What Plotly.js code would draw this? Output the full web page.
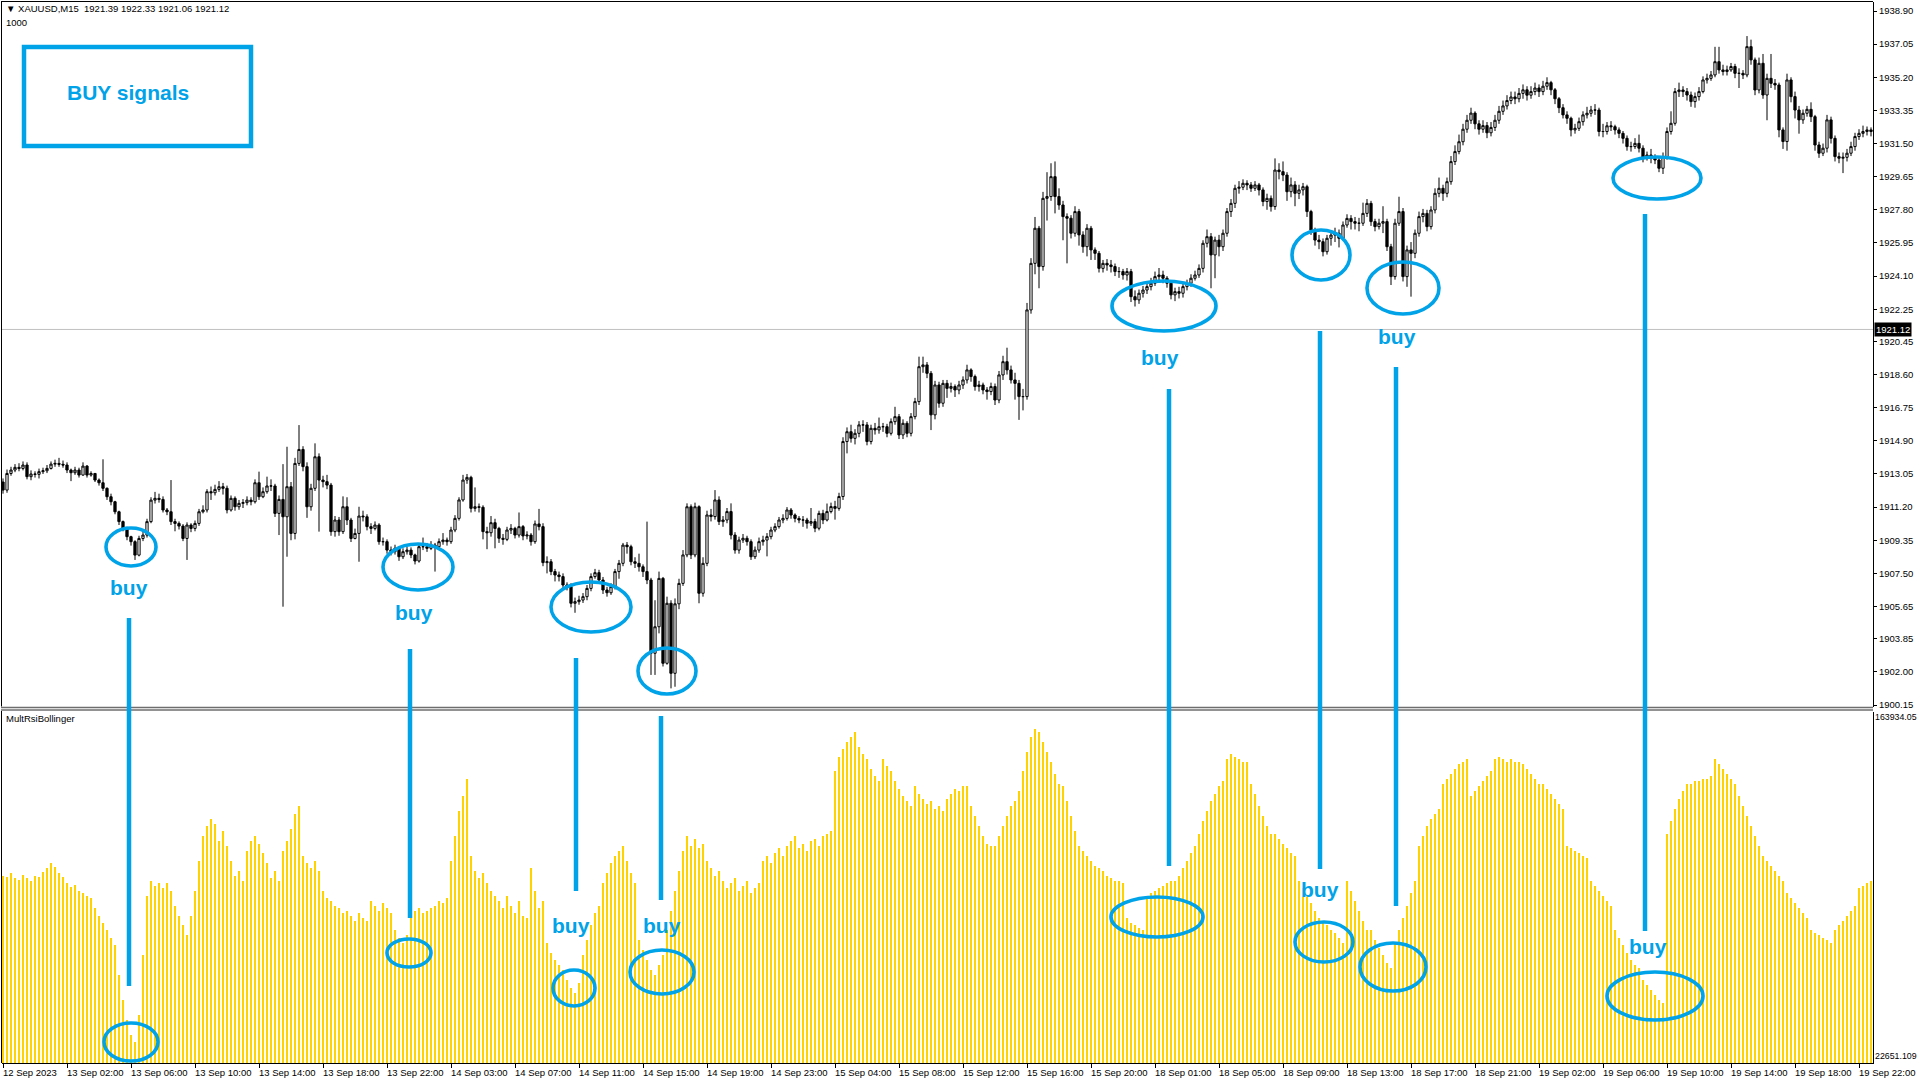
<!DOCTYPE html>
<html><head><meta charset="utf-8">
<script src="https://cdn.plot.ly/plotly-3.0.1.min.js"></script>
<style>html,body{margin:0;padding:0;background:#fff;overflow:hidden}#chart{width:1920px;height:1080px}</style>
</head><body><div id="chart"></div>
<script>
// ---------- DATA (XAUUSD M15) ----------
const firstOpen = 1912.60;
const closes = [
1912.15,1913.08,1913.27,1913.42,1913.36,1913.55,1912.90,1913.05,1913.03,1913.18,
1913.23,1913.36,1913.60,1913.64,1913.59,1913.55,1913.27,1913.12,1913.27,1912.99,
1913.49,1912.99,1913.08,1912.71,1912.56,1912.25,1911.78,1911.50,1910.94,1910.39,
1910.01,1909.55,1909.27,1908.52,1909.45,1909.64,1910.39,1911.59,1911.69,1911.63,
1911.04,1910.94,1910.39,1910.29,1910.14,1909.45,1910.20,1910.01,1910.29,1910.94,
1911.04,1912.06,1912.00,1912.19,1912.34,1912.25,1911.04,1911.69,1911.22,1911.41,
1911.45,1911.59,1911.50,1912.56,1911.78,1912.06,1912.38,1912.38,1910.85,1911.63,
1910.66,1912.34,1909.73,1913.64,1914.42,1913.46,1911.22,1912.25,1914.01,1912.71,
1912.62,1912.43,1909.83,1910.48,1909.83,1911.22,1910.48,1909.45,1909.73,1910.70,
1910.66,1910.11,1910.01,1910.20,1909.27,1909.27,1908.80,1908.71,1908.90,1908.43,
1908.71,1908.80,1908.53,1908.19,1908.99,1908.99,1908.90,1909.08,1908.99,1909.27,
1909.36,1909.27,1909.92,1910.57,1911.60,1912.71,1912.86,1911.13,1911.22,1911.19,
1909.83,1909.77,1910.33,1910.01,1909.46,1909.40,1909.92,1910.01,1909.64,1910.11,
1909.59,1909.64,1909.27,1910.26,1910.11,1908.10,1908.15,1907.60,1907.41,1907.32,
1906.85,1906.76,1905.83,1905.92,1906.01,1906.20,1906.66,1907.32,1907.54,1907.13,
1906.57,1906.42,1906.76,1907.60,1908.06,1909.08,1908.99,1908.15,1908.06,1907.87,
1907.60,1907.13,1903.04,1904.52,1907.22,1902.48,1905.83,1901.92,1905.80,1906.94,
1908.53,1911.22,1908.53,1911.22,1906.39,1908.06,1910.76,1910.67,1911.60,1910.39,
1910.48,1910.95,1909.64,1908.80,1909.36,1909.46,1909.27,1908.43,1908.80,1909.27,
1909.36,1909.55,1909.92,1910.11,1910.48,1910.57,1911.04,1910.76,1910.57,1910.48,
1910.48,1910.30,1910.39,1910.02,1910.85,1910.48,1910.95,1911.23,1911.13,1911.79,
1914.86,1915.41,1915.04,1915.32,1915.79,1915.79,1914.86,1915.60,1915.51,1915.69,
1915.69,1915.32,1915.97,1916.25,1915.23,1915.88,1915.32,1916.25,1917.09,1919.04,
1919.14,1918.67,1916.35,1918.02,1917.00,1918.11,1917.83,1917.93,1917.74,1918.02,
1918.30,1918.86,1918.49,1917.93,1918.02,1917.74,1917.65,1917.93,1917.18,1918.58,
1919.32,1918.86,1918.30,1918.11,1917.37,1917.37,1922.21,1924.81,1926.77,1924.63,
1928.44,1928.54,1929.65,1928.54,1928.07,1927.42,1927.33,1926.49,1927.70,1926.40,
1925.74,1926.77,1925.56,1925.37,1924.53,1924.81,1924.72,1924.63,1924.35,1924.35,
1924.16,1924.35,1922.95,1922.77,1923.14,1923.32,1923.51,1923.70,1924.07,1924.16,
1923.98,1923.70,1923.05,1923.23,1923.14,1923.51,1923.70,1923.98,1924.16,1924.53,
1925.93,1926.30,1925.28,1926.11,1925.74,1926.49,1927.70,1928.16,1929.00,1929.06,
1929.28,1929.19,1929.00,1929.19,1928.91,1928.26,1928.44,1927.98,1930.02,1929.93,
1929.74,1928.81,1929.19,1928.72,1928.91,1929.09,1927.70,1926.67,1926.11,1926.02,
1925.46,1926.21,1926.39,1926.49,1926.21,1926.95,1927.32,1927.14,1927.05,1927.05,
1927.60,1928.16,1927.14,1926.86,1927.05,1927.14,1925.74,1924.07,1927.05,1927.70,
1924.07,1925.56,1925.37,1926.49,1927.42,1927.60,1926.86,1927.79,1928.72,1929.00,
1928.72,1929.37,1930.49,1931.05,1931.60,1932.30,1932.80,1933.20,1932.60,1932.30,
1932.50,1932.10,1932.40,1932.80,1933.30,1933.60,1933.90,1934.10,1934.00,1934.30,
1934.50,1934.20,1934.40,1934.60,1934.40,1934.70,1934.90,1934.50,1934.00,1933.50,
1933.10,1932.91,1932.26,1932.35,1932.72,1933.10,1933.19,1933.37,1933.37,1932.17,
1932.17,1932.49,1932.44,1932.26,1932.07,1931.79,1931.33,1931.33,1931.51,1931.24,
1930.68,1930.86,1930.68,1930.58,1930.12,1930.77,1932.17,1932.63,1934.40,1934.49,
1934.40,1934.21,1933.84,1934.12,1934.40,1935.05,1935.14,1935.33,1936.07,1935.61,
1935.52,1935.61,1935.80,1935.42,1935.42,1935.33,1936.91,1936.17,1934.49,1935.98,
1934.21,1935.14,1934.86,1934.77,1932.26,1931.61,1935.05,1934.12,1933.37,1932.82,
1933.19,1933.41,1933.00,1931.42,1930.96,1931.24,1932.82,1931.79,1930.77,1930.68,
1930.73,1930.96,1931.33,1931.89,1932.07,1932.17,1932.26,1932.17
];
const highs = [
1912.80,1913.30,1913.45,1913.60,1913.65,1913.75,1913.70,1913.25,1913.20,1913.35,
1913.40,1913.55,1913.75,1913.85,1913.95,1913.80,1913.70,1913.35,1913.45,1913.40,
1913.70,1913.55,1913.20,1913.10,1912.80,1913.87,1912.30,1911.95,1911.55,1911.00,
1910.45,1910.10,1909.60,1909.35,1909.60,1909.90,1910.55,1911.75,1912.05,1911.95,
1911.80,1911.15,1912.71,1910.55,1910.40,1910.25,1910.35,1910.30,1910.45,1911.10,
1911.30,1912.20,1912.35,1912.45,1912.65,1912.55,1912.40,1911.85,1911.80,1911.60,
1911.65,1911.80,1911.75,1912.75,1913.18,1912.30,1912.90,1912.75,1912.50,1911.85,
1913.60,1914.57,1912.60,1913.95,1915.78,1914.60,1913.70,1912.50,1914.76,1914.20,
1912.95,1913.00,1912.55,1910.70,1910.65,1911.80,1911.75,1910.60,1910.00,1911.22,
1911.00,1910.80,1910.30,1910.40,1910.30,1909.50,1909.40,1909.00,1909.10,1909.00,
1908.90,1909.00,1908.95,1908.60,1909.15,1909.50,1909.20,1909.30,1909.20,1909.45,
1909.75,1909.50,1910.10,1910.75,1911.75,1913.00,1913.05,1912.95,1912.30,1911.40,
1911.30,1910.10,1910.70,1910.55,1910.10,1909.70,1910.10,1910.25,1910.10,1910.90,
1910.20,1909.85,1909.75,1910.45,1911.10,1910.30,1908.45,1908.30,1907.75,1907.60,
1907.50,1907.00,1906.95,1906.15,1906.25,1906.40,1906.85,1907.50,1907.75,1907.70,
1907.30,1906.75,1906.95,1907.75,1908.25,1909.20,1909.25,1909.10,1908.40,1908.60,
1908.00,1910.39,1907.25,1906.00,1907.60,1907.30,1906.20,1906.00,1906.10,1907.20,
1908.80,1911.41,1911.35,1911.45,1911.30,1908.40,1911.00,1911.10,1912.15,1911.80,
1910.70,1911.15,1911.41,1909.80,1909.55,1909.70,1909.60,1909.40,1909.00,1909.50,
1909.60,1909.75,1910.10,1910.30,1910.65,1910.80,1911.20,1911.15,1910.85,1910.70,
1910.70,1910.60,1911.15,1910.55,1911.00,1911.05,1911.40,1911.45,1911.55,1912.00,
1915.10,1915.65,1915.80,1915.55,1916.00,1916.05,1915.95,1915.80,1915.90,1916.20,
1915.90,1915.85,1916.15,1916.80,1916.40,1916.10,1916.00,1916.45,1917.30,1919.60,
1919.60,1919.30,1918.80,1918.25,1918.20,1918.30,1918.30,1918.15,1918.05,1918.25,
1918.50,1919.15,1918.95,1918.60,1918.25,1918.15,1917.90,1918.15,1918.10,1918.80,
1919.65,1920.10,1919.10,1918.70,1918.30,1917.80,1922.60,1925.10,1927.40,1926.90,
1928.80,1929.90,1930.40,1930.50,1929.00,1928.30,1927.60,1927.50,1928.00,1927.85,
1926.60,1927.00,1926.90,1925.70,1925.50,1925.00,1925.05,1925.00,1924.80,1924.60,
1924.50,1924.55,1924.50,1923.30,1923.35,1923.55,1923.75,1924.00,1924.35,1924.55,
1924.40,1924.10,1923.85,1923.45,1923.50,1923.70,1923.90,1924.20,1924.40,1924.75,
1926.10,1926.70,1926.50,1926.30,1926.40,1926.70,1927.90,1928.40,1929.20,1929.40,
1929.50,1929.45,1929.35,1929.40,1929.30,1929.05,1928.70,1928.60,1930.67,1930.40,
1930.50,1929.90,1929.60,1929.40,1929.20,1929.30,1929.20,1927.80,1926.80,1926.40,
1926.20,1926.40,1926.60,1926.80,1926.70,1927.15,1927.55,1927.50,1927.40,1927.35,
1928.20,1928.40,1928.30,1927.30,1927.30,1928.00,1927.30,1925.90,1927.30,1928.53,
1927.90,1925.80,1926.00,1926.70,1927.70,1927.85,1927.80,1928.00,1929.00,1929.60,
1929.20,1929.60,1930.80,1931.40,1932.00,1932.60,1933.10,1933.50,1933.30,1932.80,
1932.80,1932.70,1932.70,1933.10,1933.60,1933.90,1934.20,1934.40,1934.40,1934.60,
1934.80,1934.70,1934.70,1934.90,1934.80,1935.00,1935.20,1935.00,1934.60,1934.10,
1933.70,1933.30,1933.00,1932.60,1932.95,1933.30,1933.55,1933.60,1933.70,1933.50,
1932.60,1932.70,1932.75,1932.55,1932.40,1932.20,1931.95,1931.60,1931.80,1932.00,
1931.40,1931.05,1931.20,1930.90,1930.80,1931.00,1932.40,1933.30,1934.60,1934.90,
1934.70,1934.60,1934.40,1934.35,1934.65,1935.25,1935.40,1935.55,1936.90,1936.90,
1935.90,1935.85,1936.00,1935.95,1935.70,1935.60,1937.50,1937.30,1936.30,1936.30,
1936.50,1935.40,1936.50,1935.10,1934.90,1932.40,1935.40,1935.20,1934.40,1933.60,
1933.40,1933.60,1933.80,1933.10,1931.60,1931.50,1933.10,1933.00,1931.95,1931.00,
1931.00,1931.20,1931.60,1932.10,1932.30,1932.50,1932.45,1932.40
];
const lows = [
1911.95,1912.00,1912.95,1913.15,1913.20,1913.25,1912.75,1912.70,1912.85,1912.80,
1913.05,1913.10,1913.30,1913.45,1913.45,1913.40,1913.10,1912.65,1913.00,1912.85,
1912.95,1912.85,1912.90,1912.60,1912.40,1912.10,1911.60,1911.30,1910.80,1910.20,
1909.85,1909.35,1909.05,1908.25,1908.45,1909.30,1909.50,1910.30,1911.40,1911.45,
1910.90,1910.75,1910.20,1909.85,1909.95,1909.30,1908.25,1909.80,1909.85,1910.15,
1910.85,1910.90,1911.60,1911.85,1912.05,1911.90,1910.85,1910.95,1911.00,1911.05,
1911.15,1911.30,1911.30,1911.40,1911.60,1911.70,1911.95,1912.10,1910.65,1909.64,
1905.64,1908.43,1909.35,1909.40,1913.50,1913.20,1910.60,1911.00,1912.10,1909.83,
1912.30,1912.20,1909.60,1909.55,1909.60,1909.70,1910.20,1909.25,1909.40,1908.15,
1910.40,1909.90,1909.70,1909.90,1909.10,1909.05,1908.60,1908.50,1908.55,1908.20,
1908.30,1908.55,1908.35,1908.00,1908.10,1908.80,1908.70,1908.80,1907.60,1908.90,
1909.10,1909.05,1909.15,1909.80,1910.45,1911.50,1912.50,1910.90,1910.95,1910.90,
1909.40,1908.85,1909.55,1908.90,1909.20,1909.10,1909.30,1909.70,1909.45,1909.50,
1909.35,1909.40,1909.05,1909.15,1909.90,1907.90,1907.50,1907.40,1907.05,1907.05,
1906.65,1906.55,1905.60,1905.30,1905.75,1905.85,1906.00,1906.50,1907.20,1906.95,
1906.35,1906.20,1906.30,1906.60,1907.20,1907.90,1908.60,1907.95,1907.80,1907.60,
1907.30,1906.90,1901.83,1901.83,1904.15,1902.30,1902.40,1901.08,1901.17,1905.50,
1906.80,1908.40,1908.30,1908.40,1905.83,1906.20,1907.90,1910.40,1910.50,1910.20,
1910.10,1910.30,1909.40,1908.60,1908.60,1909.20,1909.05,1908.25,1908.30,1908.65,
1909.05,1908.45,1909.40,1909.80,1910.00,1910.30,1910.45,1910.55,1910.35,1910.30,
1910.10,1910.00,1910.15,1909.80,1909.90,1910.25,1910.40,1910.85,1910.50,1911.00,
1911.60,1914.20,1914.80,1914.70,1915.10,1915.40,1914.65,1914.70,1915.25,1915.30,
1915.40,1915.10,1915.20,1915.80,1915.00,1915.00,1915.10,1915.15,1916.10,1916.90,
1918.70,1918.40,1915.50,1916.10,1916.75,1916.80,1917.30,1917.60,1917.35,1917.50,
1917.80,1918.10,1918.20,1917.70,1917.65,1917.50,1917.20,1917.45,1916.90,1917.00,
1918.30,1918.60,1918.10,1917.20,1916.07,1916.60,1917.20,1922.00,1924.20,1923.42,
1924.40,1927.20,1928.30,1927.60,1927.80,1926.10,1924.81,1926.20,1926.30,1925.80,
1925.40,1925.20,1925.00,1925.00,1924.30,1924.30,1924.40,1924.30,1924.10,1924.00,
1923.90,1923.85,1922.65,1922.40,1922.55,1922.90,1923.10,1923.30,1923.55,1923.80,
1923.70,1923.45,1922.80,1922.70,1922.85,1922.90,1923.30,1923.50,1923.85,1924.00,
1924.30,1925.70,1923.42,1923.98,1925.20,1925.50,1926.30,1927.40,1927.90,1928.70,
1928.90,1928.90,1928.80,1928.85,1928.60,1928.00,1927.80,1927.70,1927.80,1929.50,
1929.40,1928.30,1928.50,1928.00,1928.40,1928.60,1927.40,1926.40,1925.80,1925.60,
1925.20,1925.30,1925.80,1926.00,1925.70,1926.10,1926.80,1926.70,1926.70,1926.60,
1926.90,1927.40,1926.90,1926.60,1926.70,1926.50,1925.50,1923.60,1923.90,1926.90,
1923.80,1923.50,1922.95,1925.10,1926.30,1927.10,1926.60,1926.70,1927.60,1928.50,
1928.30,1928.50,1929.20,1930.30,1930.90,1931.40,1932.10,1932.60,1932.30,1932.00,
1932.10,1931.80,1931.90,1932.20,1932.60,1933.10,1933.40,1933.70,1933.70,1933.80,
1934.00,1933.90,1934.00,1934.20,1934.10,1934.20,1934.50,1934.20,1933.70,1933.20,
1932.90,1932.60,1931.90,1932.05,1932.20,1932.50,1932.90,1933.00,1933.10,1931.90,
1931.85,1932.00,1932.20,1932.00,1931.80,1931.50,1931.10,1931.05,1931.20,1931.00,
1930.45,1930.55,1930.40,1930.35,1929.90,1929.80,1930.60,1932.00,1932.50,1934.10,
1934.10,1933.90,1933.55,1933.50,1933.90,1934.30,1934.85,1935.00,1935.20,1935.40,
1935.30,1935.30,1935.50,1935.15,1934.60,1935.10,1935.20,1935.90,1934.20,1934.30,
1934.00,1932.80,1934.60,1934.50,1931.85,1931.20,1931.10,1933.80,1932.90,1932.05,
1932.60,1933.00,1932.70,1931.10,1930.70,1930.80,1931.00,1931.50,1930.50,1930.40,
1929.85,1930.50,1930.80,1931.10,1931.70,1931.85,1931.95,1931.90
];
// MultRsiBollinger histogram
const hist = [
98000,97500,99000,97000,96500,98500,97000,96000,98000,97500,99500,101000,103000,101500,99000,97500,
95000,93500,94500,92000,91000,90000,89000,
85000,82000,79000,76000,73000,70000,
58000,48000,40000,34000,31000,
42000,66000,90000,
96000,94000,95000,93000,95000,92000,
86000,82000,78000,74000,
82000,92000,104000,
114000,118000,121000,119000,112000,116000,110000,
104000,98000,100000,96000,
108000,112000,114000,111000,107000,
103000,97000,100000,96000,
108000,112000,117000,123000,126000,
106000,103000,101000,104000,100000,
92000,89000,88000,86000,
85000,83000,84000,82000,80000,83000,81000,80000,
88000,86000,84000,87000,85000,83000,
76000,73000,71000,74000,
86000,84000,85000,83000,84000,
85000,86000,88000,87000,89000,
104000,114000,124000,130000,
137000,
106000,100000,97000,99000,95000,
92000,90000,88000,85000,
90000,86000,83000,88000,82000,81000,
101000,92000,85000,88000,
71000,67000,64000,62000,60000,
56000,53000,51000,55000,
66000,72000,78000,83000,86000,
95000,99000,103000,106000,108000,110000,
104000,99000,95000,
72000,68000,64000,60000,58000,62000,66000,
76000,84000,92000,100000,108000,
114000,110000,113000,109000,111000,
104000,101000,98000,100000,96000,93000,95000,97000,92000,94000,96000,91000,93000,95000,
104000,106000,103000,107000,109000,106000,110000,112000,114000,
109000,111000,108000,112000,113000,110000,114000,115000,116000,
140000,146000,149000,152000,154000,156000,
150000,147000,145000,141000,138000,136000,
145000,142000,140000,136000,133000,130000,128000,126000,
134000,131000,129000,127000,128000,125000,126000,124000,
129000,131000,133000,132000,134000,134000,
126000,122000,118000,114000,111000,110000,
110000,114000,118000,122000,126000,128000,
132000,140000,148000,154000,
157000,156000,152000,148000,144000,139000,135000,
134000,128000,122000,116000,
110000,108000,106000,104000,102000,101000,
100000,98000,97000,96000,96000,95000,
81000,79000,78000,77000,76000,
90000,91000,92000,93000,94000,95000,96000,
96000,98000,101000,104000,107000,110000,
115000,120000,124000,128000,131000,134000,136000,
145000,147000,146000,145000,144000,144000,
135000,131000,126000,122000,118000,115000,
115000,113000,111000,109000,107000,106000,
96000,93000,90000,87000,84000,81000,
80000,78000,76000,75000,73000,71000,
96000,92000,88000,84000,80000,76000,
76000,72000,69000,66000,63000,61000,
71000,76000,81000,86000,91000,96000,
110000,114000,118000,121000,123000,125000,
135000,137000,139000,141000,143000,144000,145000,
130000,132000,134000,136000,138000,140000,
145000,146000,145000,144000,145000,144000,
144000,143000,141000,139000,137000,135000,
135000,133000,131000,129000,127000,125000,
110000,109000,108000,107000,106000,105000,
96000,94000,92000,90000,88000,86000,
76000,73000,70000,67000,64000,62000,61000,
56000,54000,52000,50000,48000,47000,
115000,120000,125000,129000,132000,135000,
135000,136000,136000,137000,137000,138000,
145000,143000,141000,139000,137000,135000,
130000,126000,122000,118000,114000,110000,
106000,104000,102000,100000,98000,96000,
91000,89000,87000,85000,83000,81000,
76000,75000,74000,73000,72000,71000,
76000,78000,80000,82000,84000,86000,
93000,94000,95000,96000
];
const timeLabels = ["12 Sep 2023","13 Sep 02:00","13 Sep 06:00","13 Sep 10:00","13 Sep 14:00","13 Sep 18:00","13 Sep 22:00",
"14 Sep 03:00","14 Sep 07:00","14 Sep 11:00","14 Sep 15:00","14 Sep 19:00","14 Sep 23:00","15 Sep 04:00","15 Sep 08:00",
"15 Sep 12:00","15 Sep 16:00","15 Sep 20:00","18 Sep 01:00","18 Sep 05:00","18 Sep 09:00","18 Sep 13:00","18 Sep 17:00",
"18 Sep 21:00","19 Sep 02:00","19 Sep 06:00","19 Sep 10:00","19 Sep 14:00","19 Sep 18:00","19 Sep 22:00"];
const barsPerLabel = 16;
const priceTicks = [1938.90,1937.05,1935.20,1933.35,1931.50,1929.65,1927.80,1925.95,1924.10,1922.25,1920.45,
1918.60,1916.75,1914.90,1913.05,1911.20,1909.35,1907.50,1905.65,1903.85,1902.00,1900.15];
const priceTickText = ["1938.90","1937.05","1935.20","1933.35","1931.50","1929.65","1927.80","1925.95","1924.10","1922.25","1920.45",
"1918.60","1916.75","1914.90","1913.05","1911.20","1909.35","1907.50","1905.65","1903.85","1902.00","1900.15"];
const histMax = 163934.05, histMin = 22651.109;
const lastPrice = 1921.12;
const headerText = "XAUUSD,M15\u00a0\u00a01921.39 1922.33 1921.06 1921.12";

// ---------- BUILD ----------
const n = closes.length;
const idx = closes.map((_, i) => i);
const opens = closes.map((c, i) => i === 0 ? firstOpen : closes[i - 1]);
const hi = highs.map((h, i) => Math.max(h, opens[i], closes[i]));
const lo = lows.map((l, i) => Math.min(l, opens[i], closes[i]));
const tickIdx = timeLabels.map((_, k) => k * barsPerLabel);

const PL = 2, PR = 1873, PT = 2, PB = 1063;
const fx = p => (p - PL) / (PR - PL);
const fy = p => (PB - p) / (PB - PT);
const BLUE = '#00A2E8';
const FONT = 'Liberation Sans, Arial, sans-serif';

const ellipses = [[131,547,25,19],[418,567,35,23],[591,607,40,25],[667,671,29,23],[1164,306,52,25],[1321,255,29,25],[1403,288,36,26],[1657,178,44,21],
 [131,1042,27,19],[409,953,22,14],[574,988,21,18],[662,972,32,22],[1157,917,46,20],[1324,942,29,20],[1393,967,33,24],[1655,996,48,24]];
const vlines = [[129,618,986],[410,649,918],[576,658,891],[661,716,900],[1169,389,866],[1320,331,869],[1396,367,906],[1645,214,931]];
const buyLabels = [[129,588],[414,612],[571,925],[662,925],[1160,357],[1320,889],[1397,337],[1648,946]];

const shapes = [];
shapes.push({type:'line', xref:'paper', yref:'paper', x0:fx(1.5), x1:fx(1.5), y0:fy(1), y1:fy(PB), line:{color:'#000', width:1}});
shapes.push({type:'line', xref:'paper', yref:'paper', x0:fx(1), x1:fx(PR), y0:fy(1.5), y1:fy(1.5), line:{color:'#000', width:1}});
shapes.push({type:'rect', xref:'paper', yref:'paper', x0:fx(1), x1:fx(PR), y0:fy(711), y1:fy(706.5), fillcolor:'#fff', line:{width:0}});
shapes.push({type:'line', xref:'paper', yref:'paper', x0:fx(1), x1:fx(PR), y0:fy(707.5), y1:fy(707.5), line:{color:'#6e6e6e', width:1.5}});
shapes.push({type:'line', xref:'paper', yref:'paper', x0:fx(1), x1:fx(PR), y0:fy(710), y1:fy(710), line:{color:'#6e6e6e', width:1.5}});
shapes.push({type:'line', xref:'paper', yref:'y', x0:0, x1:1, y0:lastPrice, y1:lastPrice, line:{color:'#c0c0c0', width:1}, layer:'below'});
shapes.push({type:'rect', xref:'paper', yref:'paper', x0:fx(24), x1:fx(251), y0:fy(146), y1:fy(47), line:{color:BLUE, width:4.5}});
ellipses.forEach(e => shapes.push({type:'circle', xref:'paper', yref:'paper', x0:fx(e[0]-e[2]), x1:fx(e[0]+e[2]), y0:fy(e[1]+e[3]), y1:fy(e[1]-e[3]), line:{color:BLUE, width:3.6}}));
vlines.forEach(v => shapes.push({type:'line', xref:'paper', yref:'paper', x0:fx(v[0]), x1:fx(v[0]), y0:fy(v[1]), y1:fy(v[2]), line:{color:BLUE, width:4.5}}));

const annotations = [];
annotations.push({xref:'paper', yref:'paper', x:fx(128), y:fy(92), text:'<b>BUY signals</b>', showarrow:false, font:{family:FONT, size:21, color:BLUE}, xanchor:'center', yanchor:'middle'});
buyLabels.forEach(b => annotations.push({xref:'paper', yref:'paper', x:fx(b[0]), y:fy(b[1]), text:'<b>buy</b>', showarrow:false, font:{family:FONT, size:21, color:BLUE}, xanchor:'center', yanchor:'middle'}));
annotations.push({xref:'paper', yref:'paper', x:fx(4), y:fy(9), text:'\u25BC\u00a0' + headerText, showarrow:false, font:{family:FONT, size:9.5, color:'#000'}, xanchor:'left', yanchor:'middle'});
annotations.push({xref:'paper', yref:'paper', x:fx(4), y:fy(22), text:'1000', showarrow:false, font:{family:FONT, size:9.5, color:'#000'}, xanchor:'left', yanchor:'middle'});
annotations.push({xref:'paper', yref:'paper', x:fx(4), y:fy(718), text:'MultRsiBollinger', showarrow:false, font:{family:FONT, size:9.5, color:'#000'}, xanchor:'left', yanchor:'middle'});
annotations.push({xref:'paper', yref:'y', x:1, y:lastPrice, xshift:1, text:lastPrice.toFixed(2), showarrow:false, bgcolor:'#000', borderpad:1, font:{family:FONT, size:9.5, color:'#fff'}, xanchor:'left', yanchor:'middle'});
annotations.push({xref:'paper', yref:'paper', x:1, y:fy(717), xshift:0, text:histMax.toFixed(2), showarrow:false, font:{family:FONT, size:8.8, color:'#000'}, xanchor:'left', yanchor:'middle'});
annotations.push({xref:'paper', yref:'paper', x:1, y:fy(1056), xshift:0, text:histMin.toFixed(3), showarrow:false, font:{family:FONT, size:8.8, color:'#000'}, xanchor:'left', yanchor:'middle'});
timeLabels.forEach((t, k) => annotations.push({xref:'x', yref:'paper', x:tickIdx[k], y:0, yshift:-2, xshift:-2, text:t, showarrow:false, font:{family:FONT, size:9.5, color:'#000'}, xanchor:'left', yanchor:'top'}));

const traces = [
  {type:'bar', x:idx, y:hist, xaxis:'x', yaxis:'y2', width:0.72, marker:{color:'#FFD200', line:{width:0}}, hoverinfo:'skip'},
  {type:'candlestick', x:idx, open:opens, high:hi, low:lo, close:closes, xaxis:'x', yaxis:'y', whiskerwidth:0,
   increasing:{line:{color:'#000', width:1}, fillcolor:'#fff'}, decreasing:{line:{color:'#000', width:1}, fillcolor:'#000'}, hoverinfo:'skip'}
];

const layout = {
  width:1920, height:1080, paper_bgcolor:'#fff', plot_bgcolor:'#fff', showlegend:false,
  margin:{l:PL, r:1920-PR, t:PT, b:1080-PB, pad:0},
  font:{family:FONT, size:9.5, color:'#000'},
  bargap:0, boxgap:0.2,
  xaxis:{range:[-0.25, n - 0.5], anchor:'y2', showgrid:false, zeroline:false, showline:true, linecolor:'#000', linewidth:1,
    ticks:'outside', ticklen:4, tickcolor:'#000', tickmode:'array', tickvals:tickIdx, showticklabels:false, rangeslider:{visible:false}, fixedrange:true},
  yaxis:{domain:[fy(707), 1], range:[1938.90 - (707 - 11) / 17.91, 1938.90 + 9 / 17.91], side:'right', showgrid:false, zeroline:false,
    showline:true, linecolor:'#000', linewidth:1, ticks:'outside', ticklen:3, tickcolor:'#000', tickmode:'array', tickvals:priceTicks, ticktext:priceTickText,
    tickfont:{family:FONT, size:9.5, color:'#000'}, fixedrange:true},
  yaxis2:{domain:[0, fy(712)], range:[histMin, histMax], side:'right', showgrid:false, zeroline:false, showline:true, linecolor:'#000', linewidth:1,
    showticklabels:false, ticks:'', fixedrange:true},
  shapes:shapes, annotations:annotations
};

Plotly.newPlot('chart', traces, layout, {staticPlot:true, displayModeBar:false});
</script>
</body></html>
